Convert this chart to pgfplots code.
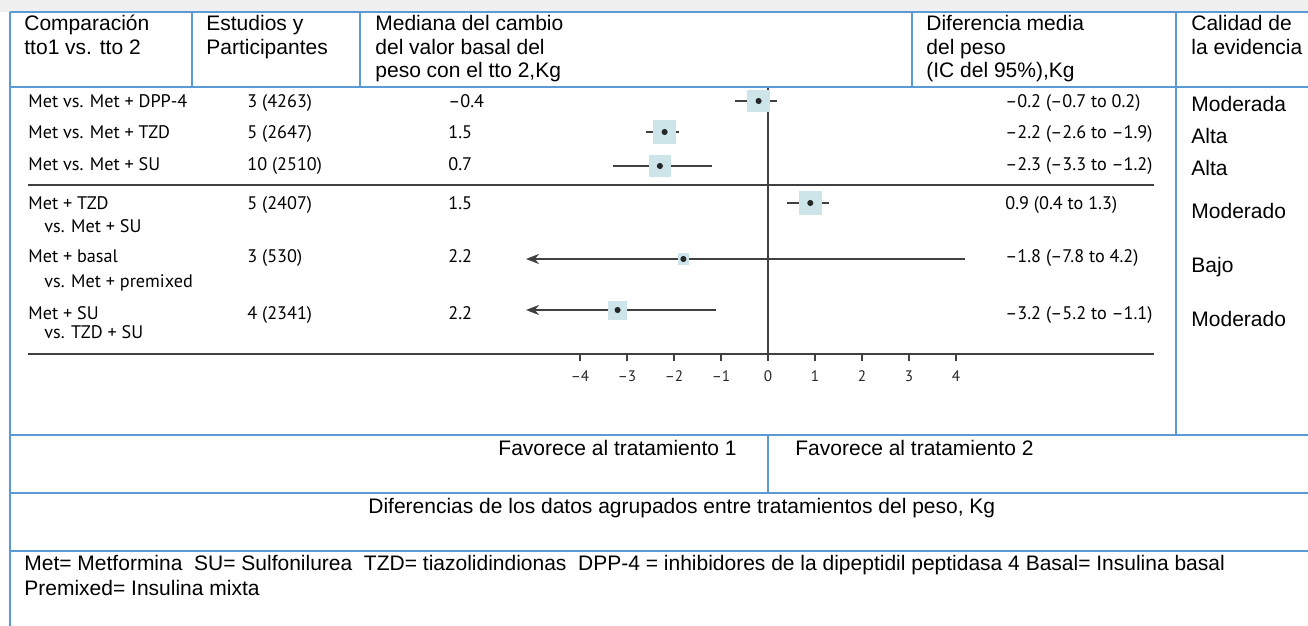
\documentclass[border=0pt]{standalone}
\usepackage{fontspec}
\setmainfont{Liberation Sans}
\newfontfamily\rowfont{PT Sans}
\usepackage{pgfplots}
\usepackage{pgfplotstable}
\pgfplotsset{compat=1.18}
\usetikzlibrary{arrows.meta}
\definecolor{tblue}{HTML}{5B9BD5}
\definecolor{boxteal}{HTML}{CDE5E8}
\definecolor{axgray}{HTML}{404040}
\definecolor{band}{HTML}{F0F0F0}
\newcommand\hdr{\fontsize{10.5}{12}\selectfont}
\newcommand\rf{\rowfont\fontsize{9.1}{10.9}\selectfont}

\pgfplotstableread{
y est lo hi box
-101 -0.2 -0.7 0.2 5.4
-132 -2.2 -2.6 -1.9 5.6
-166 -2.3 -3.3 -1.2 5.2
-203 0.9 0.4 1.3 5.6
-259 -1.8 -7.8 4.2 2.6
-310 -3.2 -5.2 -1.1 4.5
}\forestdata

\begin{document}
\begin{tikzpicture}
\useasboundingbox (0,0) rectangle (654pt,-313pt);
\fill[band] (0,0) rectangle (654pt,-6pt);
\begin{axis}[
 at={(14pt,-177pt)}, anchor=south west,
 x=23.5pt, y=0.5pt,
 xmin=-15.7447, xmax=8.2128, ymin=-354, ymax=-88,
 axis x line=bottom, axis y line=none,
 x axis line style={-, draw=axgray, line width=0.9pt},
 xtick={-4,-3,-2,-1,0,1,2,3,4},
 xticklabels={–4,–3,–2,–1,0,1,2,3,4},
 tick align=outside, major tick length=3.5pt,
 xtick style={draw=axgray, line width=0.6pt},
 xticklabel style={font=\rowfont\fontsize{7.6}{8.5}\selectfont, yshift=-1.5pt, text=black!85},
 clip=false,
]
% zero line and group separator
\draw[axgray, line width=0.9pt] (axis cs:0,-88) -- (axis cs:0,-354);
\draw[axgray, line width=0.9pt] (axis cs:-15.7447,-185) -- (axis cs:8.2128,-185);
% boxes
\addplot[only marks, mark=square*, mark size=5.4pt, color=boxteal] coordinates {(-0.2,-101)};
\addplot[only marks, mark=square*, mark size=5.6pt, color=boxteal] coordinates {(-2.2,-132)};
\addplot[only marks, mark=square*, mark size=5.2pt, color=boxteal] coordinates {(-2.3,-166)};
\addplot[only marks, mark=square*, mark size=5.6pt, color=boxteal] coordinates {(0.9,-203)};
\addplot[only marks, mark=square*, mark size=2.6pt, color=boxteal] coordinates {(-1.8,-259)};
\addplot[only marks, mark=square*, mark size=4.5pt, color=boxteal] coordinates {(-3.2,-310)};
% confidence intervals
\addplot[axgray, line width=0.8pt, mark=none] coordinates {(-0.7,-101) (0.2,-101)};
\addplot[axgray, line width=0.8pt, mark=none] coordinates {(-2.6,-132) (-1.9,-132)};
\addplot[axgray, line width=0.8pt, mark=none] coordinates {(-3.3,-166) (-1.2,-166)};
\addplot[axgray, line width=0.8pt, mark=none] coordinates {(0.4,-203) (1.3,-203)};
\addplot[axgray, line width=0.8pt, mark=none, {Stealth[length=6.5pt,width=5pt,inset=2pt]}-] coordinates {(-5.15,-259) (4.2,-259)};
\addplot[axgray, line width=0.8pt, mark=none, {Stealth[length=6.5pt,width=5pt,inset=2pt]}-] coordinates {(-5.15,-310) (-1.1,-310)};
% point estimates
\addplot[only marks, mark=*, mark size=1.3pt, color=black!85] table[x=est, y=y] {\forestdata};
\end{axis}
\begin{scope}[x=0.5pt,y=-0.5pt]
% table lines
\begin{scope}[tblue, line width=1.25pt]
\draw (10,12) -- (1308,12);
\draw (10,87) -- (1308,87);
\draw (10,435) -- (1308,435);
\draw (10,493) -- (1308,493);
\draw (10,551) -- (1308,551);
\draw (10,12) -- (10,626);
\draw (192,12) -- (192,87);
\draw (360,12) -- (360,87);
\draw (912,12) -- (912,87);
\draw (1176,12) -- (1176,435);
\draw (768,435) -- (768,493);
\end{scope}
% header
\begin{scope}[every node/.style={anchor=base west, inner sep=0pt, font=\hdr}]
\node at (24,31) {Comparación};
\node at (24,55) {tto1 vs. tto 2};
\node at (206,31) {Estudios y};
\node at (206,55) {Participantes};
\node at (375,31) {Mediana del cambio};
\node at (375,55) {del valor basal del};
\node at (375,78) {peso con el tto 2,Kg};
\node at (926,31) {Diferencia media};
\node at (926,55) {del peso};
\node at (926,78) {(IC del 95\%),Kg};
\node at (1191,31) {Calidad de};
\node at (1191,55) {la evidencia};
% quality
\node at (1191,112) {Moderada};
\node at (1191,144) {Alta};
\node at (1191,176) {Alta};
\node at (1191,219) {Moderado};
\node at (1191,272) {Bajo};
\node at (1191,326) {Moderado};
% bottom rows
\node[anchor=base east] at (737,455) {Favorece al tratamiento 1};
\node at (795,455) {Favorece al tratamiento 2};
\node at (368,513) {Diferencias de los datos agrupados entre tratamientos del peso, Kg};
\node at (24,570) {Met= Metformina\ \ SU= Sulfonilurea\ \ TZD= tiazolidindionas\ \ DPP-4 = inhibidores de la dipeptidil peptidasa 4 Basal= Insulina basal};
\node at (24,595) {Premixed= Insulina mixta};
\end{scope}
% row text
\begin{scope}[every node/.style={anchor=base west, inner sep=0pt, font=\rf}]
\node at (28,108) {Met vs. Met + DPP-4};
\node at (28,139) {Met vs. Met + TZD};
\node at (28,171) {Met vs. Met + SU};
\node at (28,210) {Met + TZD};
\node at (44,233) {vs. Met + SU};
\node at (28,263) {Met + basal};
\node at (44,287) {vs. Met + premixed};
\node at (28,319) {Met + SU};
\node at (44,338) {vs. TZD + SU};
\node at (247,108) {3 (4263)};
\node at (247,139) {5 (2647)};
\node at (247,171) {10 (2510)};
\node at (247,210) {5 (2407)};
\node at (247,263) {3 (530)};
\node at (247,319) {4 (2341)};
\node at (448,108) {–0.4};
\node at (448,139) {1.5};
\node at (448,171) {0.7};
\node at (448,210) {1.5};
\node at (448,263) {2.2};
\node at (448,319) {2.2};
\node at (1005,108) {–0.2 (–0.7 to 0.2)};
\node at (1005,139) {–2.2 (–2.6 to –1.9)};
\node at (1005,171) {–2.3 (–3.3 to –1.2)};
\node at (1005,210) {0.9 (0.4 to 1.3)};
\node at (1005,263) {–1.8 (–7.8 to 4.2)};
\node at (1005,319) {–3.2 (–5.2 to –1.1)};
\end{scope}
\end{scope}
\end{tikzpicture}
\end{document}
